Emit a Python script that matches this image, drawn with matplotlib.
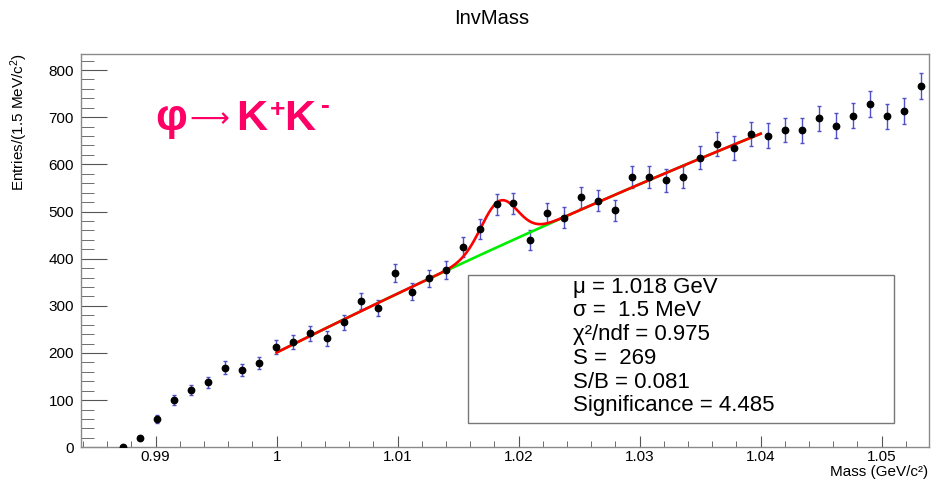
import numpy as np
import matplotlib
matplotlib.use('Agg')
import matplotlib.pyplot as plt
from matplotlib.patches import Rectangle
from matplotlib.ticker import MultipleLocator, FuncFormatter

plt.rcParams['font.family'] = ['Liberation Sans', 'DejaVu Sans']
plt.rcParams['mathtext.fontset'] = 'custom'
plt.rcParams['mathtext.rm'] = 'Liberation Sans'
plt.rcParams['mathtext.it'] = 'Liberation Sans:italic'
plt.rcParams['mathtext.bf'] = 'Liberation Sans:bold'
plt.rcParams['mathtext.default'] = 'regular'

# histogram definition (50 bins)
mass_lo = 0.98383
mass_hi = 1.05391
n_bins = 50
counts = [0, 0, 1, 20, 60, 100, 121, 138, 169, 163, 179, 213, 224, 242, 231, 265,
          310, 295, 370, 330, 358, 376, 425, 463, 515, 517, 440, 496, 487, 530,
          523, 503, 573, 573, 566, 573, 614, 644, 635, 664, 661, 673, 672, 698,
          682, 703, 728, 702, 713, 766]

# fit: gaussian + pol2 background, range 1.00 - 1.04
fit_lo, fit_hi = 1.0, 1.04
bkg_p0, bkg_p1, bkg_p2 = 201.0, 12800.0, -30000.0   # in (m - 1.0)
sig_amp, sig_mu, sig_sigma = 96.0, 1.0184, 0.0015

stats_lines = ['μ = 1.018 GeV', 'σ =  1.5 MeV', 'χ²/ndf = 0.975',
               'S =  269', 'S/B = 0.081', 'Significance = 4.485']

W, H = 934, 483
fig = plt.figure(figsize=(W / 100, H / 100), dpi=100)
ax = fig.add_axes([81 / W, 1 - 447.3 / H, (929 - 81) / W, (447.3 - 54) / H])

edges = np.linspace(mass_lo, mass_hi, n_bins + 1)
centers = 0.5 * (edges[:-1] + edges[1:])
counts = np.array(counts, dtype=float)
keep = counts > 0
ax.errorbar(centers[keep], counts[keep], yerr=np.sqrt(counts[keep]), fmt='none',
            ecolor='#5050c8', elinewidth=1.0, capsize=1.5, capthick=1.0, zorder=2)

def bkg(m):
    t = m - 1.0
    return bkg_p0 + bkg_p1 * t + bkg_p2 * t ** 2

mm = np.linspace(fit_lo, fit_hi, 400)
total = bkg(mm) + sig_amp * np.exp(-0.5 * ((mm - sig_mu) / sig_sigma) ** 2)
ax.plot(mm, bkg(mm), color='#00ee00', lw=1.9, zorder=3)
ax.plot(mm, total, color='#ff0000', lw=1.9, zorder=4)
ax.plot(centers[keep], counts[keep], 'o', color='black', ms=4.6, zorder=5)

ax.set_xlim(mass_lo, mass_hi)
ax.set_ylim(0, 834)
ax.xaxis.set_major_locator(MultipleLocator(0.01))
ax.xaxis.set_minor_locator(MultipleLocator(0.002))
ax.yaxis.set_major_locator(MultipleLocator(100))
ax.yaxis.set_minor_locator(MultipleLocator(20))
ax.xaxis.set_major_formatter(FuncFormatter(lambda v, p: f'{round(v, 4):g}'))
ax.tick_params(axis='both', which='both', direction='in', color='#555555',
               labelsize=11, top=False, right=False)
ax.tick_params(axis='y', which='major', length=19, pad=5)
ax.tick_params(axis='y', which='minor', length=9.5)
ax.tick_params(axis='x', which='major', length=8, pad=2)
ax.tick_params(axis='x', which='minor', length=4)
for s in ax.spines.values():
    s.set_color('#8a8a8a')
    s.set_linewidth(1.0)

fig.text(0.526, 1 - 18 / H, 'InvMass', ha='center', va='center', fontsize=14.5)
fig.text(928 / W, 1 - 472 / H, 'Mass (GeV/c²)', ha='right', va='center', fontsize=11)
fig.text(19 / W, 1 - 53 / H, 'Entries/(1.5 MeV/c$^{2}$)', ha='center', va='top',
         rotation=90, fontsize=11)

# decay label
pink = '#ff0066'
base = 1 - 130 / H
fig.text(155 / W, base, 'φ', color=pink, fontsize=32, fontweight='bold', va='baseline')
fig.text(189 / W, 1 - 127 / H, '⟶', color=pink, fontsize=20, family='DejaVu Sans',
         va='baseline')
fig.text(236 / W, base, 'K', color=pink, fontsize=31, fontweight='bold', va='baseline')
fig.text(270 / W, 1 - 117 / H, '+', color=pink, fontsize=19, fontweight='bold', va='baseline')
fig.text(284 / W, base, 'K', color=pink, fontsize=31, fontweight='bold', va='baseline')
fig.text(321 / W, 1 - 113 / H, '-', color=pink, fontsize=19, fontweight='bold', va='baseline')

# stats box
fig.patches.append(Rectangle((467.7 / W, 1 - 422.7 / H), (894 - 467.7) / W, (422.7 - 275) / H,
                             transform=fig.transFigure, facecolor='white',
                             edgecolor='#777777', lw=1.0, zorder=6))
for i, line in enumerate(stats_lines):
    fig.text(572.7 / W, 1 - (287 + 23.8 * i) / H, line, ha='left', va='center',
             fontsize=16, zorder=7)

fig.savefig('out.png', dpi=100)
